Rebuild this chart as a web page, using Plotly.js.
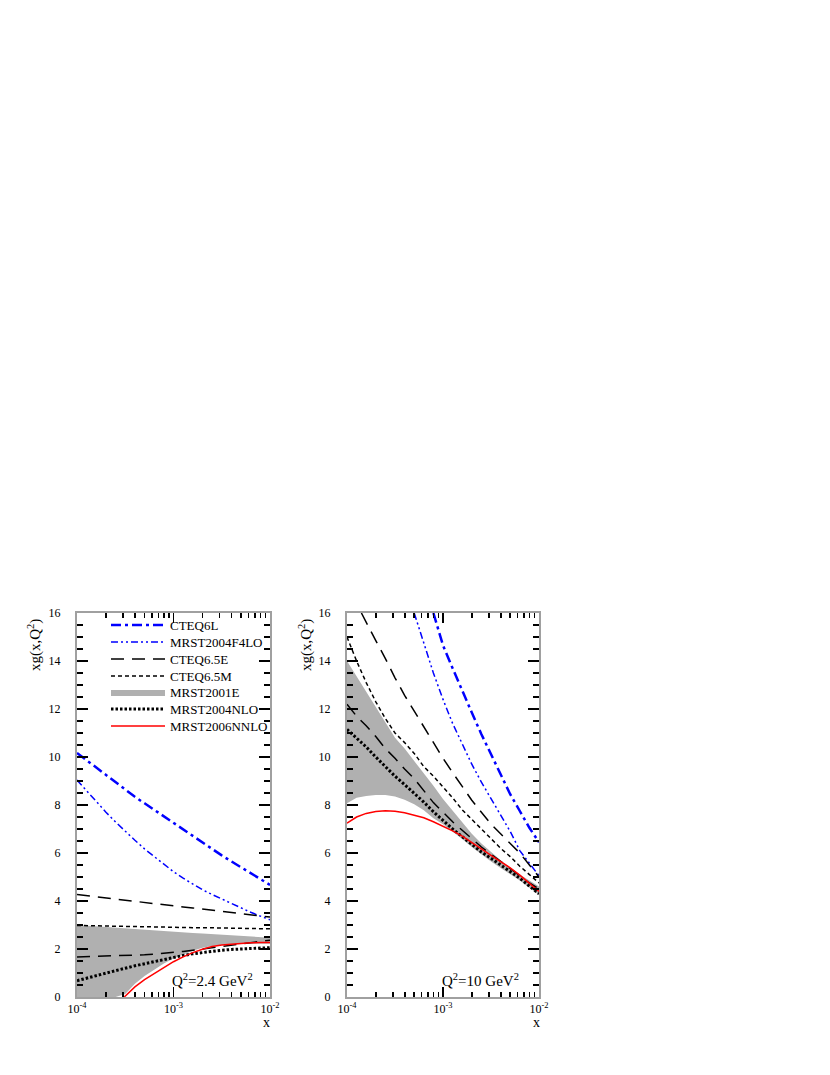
<!DOCTYPE html>
<html>
<head>
<meta charset="utf-8">
<script src="https://cdn.plot.ly/plotly-3.0.1.min.js"></script>
<style>
  html, body { margin: 0; padding: 0; background: #fff; }
  #chart { width: 830px; height: 1075px; }
</style>
</head>
<body>
<div id="chart"></div>
<script>
// x grid: 10^-4 ... 10^-2 in steps of 0.1 in log10(x)
const xGrid = [1e-4, 1.259e-4, 1.585e-4, 1.995e-4, 2.512e-4, 3.162e-4, 3.981e-4, 5.012e-4, 6.31e-4, 7.943e-4,
  1e-3, 1.259e-3, 1.585e-3, 1.995e-3, 2.512e-3, 3.162e-3, 3.981e-3, 5.012e-3, 6.31e-3, 7.943e-3, 1e-2];

// ---- Q2 = 2.4 GeV2 (left panel)
const lCteq6l   = [10.17, 9.86, 9.55, 9.24, 8.93, 8.62, 8.34, 8.07, 7.8, 7.52, 7.25, 6.97, 6.69, 6.42, 6.16, 5.9, 5.65, 5.4, 5.15, 4.91, 4.67];
const lMrstF4lo = [9.04, 8.58, 8.13, 7.7, 7.29, 6.9, 6.53, 6.17, 5.84, 5.52, 5.22, 4.95, 4.7, 4.47, 4.27, 4.08, 3.88, 3.7, 3.53, 3.37, 3.22];
const lCteq65eUp = [4.27, 4.22, 4.18, 4.13, 4.08, 4.04, 3.99, 3.94, 3.89, 3.85, 3.8, 3.75, 3.71, 3.66, 3.61, 3.57, 3.52, 3.47, 3.43, 3.38, 3.33];
const lCteq65eLo = [1.67, 1.68, 1.68, 1.69, 1.7, 1.72, 1.74, 1.76, 1.79, 1.82, 1.86, 1.9, 1.95, 2.0, 2.05, 2.1, 2.16, 2.21, 2.26, 2.32, 2.37];
const lCteq65m  = [2.98, 2.97, 2.96, 2.96, 2.95, 2.94, 2.93, 2.93, 2.92, 2.91, 2.9, 2.9, 2.89, 2.89, 2.88, 2.87, 2.87, 2.86, 2.85, 2.85, 2.84];
const lBandUp   = [3.0, 2.97, 2.94, 2.92, 2.89, 2.86, 2.83, 2.8, 2.78, 2.75, 2.72, 2.7, 2.67, 2.65, 2.62, 2.6, 2.57, 2.55, 2.52, 2.5, 2.47];
const lBandLo   = [0, 0, 0, 0, 0, 0.12, 0.55, 0.88, 1.15, 1.4, 1.6, 1.78, 1.93, 2.05, 2.13, 2.17, 2.2, 2.21, 2.22, 2.22, 2.22];
const lMrstNlo  = [0.68, 0.79, 0.9, 1.0, 1.1, 1.2, 1.3, 1.39, 1.49, 1.58, 1.66, 1.73, 1.8, 1.86, 1.91, 1.95, 1.98, 2.01, 2.03, 2.04, 2.05];
const lNnloX    = [3.09e-4, 3.981e-4, 5.012e-4, 6.31e-4, 7.943e-4, 1e-3, 1.259e-3, 1.585e-3, 1.995e-3, 2.512e-3, 3.162e-3, 3.981e-3, 5.012e-3, 6.31e-3, 7.943e-3, 1e-2];
const lMrstNnlo = [0, 0.42, 0.72, 0.98, 1.24, 1.47, 1.67, 1.85, 1.99, 2.1, 2.17, 2.21, 2.24, 2.26, 2.27, 2.27];

// ---- Q2 = 10 GeV2 (right panel)
const rCteq6l   = [null, null, null, null, null, null, null, null, null, 16.0, 14.65, 13.7, 12.75, 11.85, 10.95, 10.1, 9.25, 8.45, 7.75, 7.05, 6.45];
const rMrstF4lo = [null, null, null, null, null, null, null, 16.0, 14.7, 13.5, 12.4, 11.4, 10.55, 9.7, 8.95, 8.25, 7.55, 6.9, 6.1, 5.55, 5.05];
const rUpX      = [1.413e-4, 1.585e-4, 1.995e-4, 2.512e-4, 3.162e-4, 3.981e-4, 5.012e-4, 6.31e-4, 7.943e-4, 1e-3, 1.259e-3, 1.585e-3, 1.995e-3, 2.512e-3, 3.162e-3, 3.981e-3, 5.012e-3, 6.31e-3, 7.943e-3, 1e-2];
const rCteq65eUp = [16.0, 15.6, 14.85, 14.1, 13.3, 12.57, 11.9, 11.25, 10.6, 9.95, 9.35, 8.75, 8.2, 7.7, 7.2, 6.8, 6.4, 6.0, 5.5, 5.0];
const rCteq65eLo = [12.2, 11.7, 11.3, 10.85, 10.35, 9.95, 9.5, 9.1, 8.6, 8.1, 7.7, 7.3, 6.95, 6.6, 6.25, 5.95, 5.65, 5.35, 5.05, 4.75, 4.5];
const rCteq65m  = [15.0, 14.0, 13.1, 12.3, 11.6, 11.0, 10.6, 10.15, 9.6, 9.2, 8.75, 8.3, 7.8, 7.4, 7.0, 6.6, 6.2, 5.85, 5.45, 5.1, 4.75];
const rBandUp   = [14.0, 13.35, 12.7, 12.05, 11.4, 10.8, 10.35, 9.85, 9.35, 8.8, 8.25, 7.75, 7.25, 6.8, 6.4, 6.05, 5.7, 5.4, 5.1, 4.85, 4.6];
const rBandLo   = [8.07, 8.3, 8.38, 8.42, 8.42, 8.35, 8.22, 8.03, 7.78, 7.45, 7.2, 6.9, 6.58, 6.25, 5.93, 5.65, 5.38, 5.12, 4.85, 4.55, 4.25];
const rMrstNlo  = [11.15, 10.78, 10.42, 10.0, 9.6, 9.2, 8.85, 8.5, 8.12, 7.72, 7.35, 7.0, 6.68, 6.35, 6.04, 5.78, 5.5, 5.22, 4.95, 4.62, 4.3];
const rMrstNnlo = [7.24, 7.5, 7.65, 7.73, 7.76, 7.74, 7.68, 7.58, 7.47, 7.3, 7.12, 6.92, 6.7, 6.45, 6.17, 5.9, 5.65, 5.38, 5.08, 4.75, 4.4];

const xTickVals = [1e-4, 1e-3, 1e-2];
const xTickText = ['10<sup>-4</sup>', '10<sup>-3</sup>', '10<sup>-2</sup>'];

// legend rows (pixel centre of each row, top to bottom)
const legendRows = [625, 642, 659, 676, 692, 709, 726];

const BLUE = 'rgb(0,0,255)';
const RED = 'rgb(255,0,0)';
const GREY = 'rgb(176,176,176)';

const styles = {
  cteq6l:  { color: BLUE, width: 2.5, dash: '10px,4px,3px,4px' },
  f4lo:    { color: BLUE, width: 1.5, dash: '7px,3px,2px,3px,2px,3px' },
  c65e:    { color: 'black', width: 1.5, dash: '13px,8px' },
  c65m:    { color: 'black', width: 1.5, dash: '4px,3px' },
  nlo:     { color: 'black', width: 3, dash: '2.5px,2px' },
  nnlo:    { color: RED, width: 1.5 }
};

function panel(xa, ya, first, d) {
  const sl = first;
  return [
    { x: xGrid, y: d.bandLo, xaxis: xa, yaxis: ya, mode: 'lines', line: { width: 0 }, showlegend: false, hoverinfo: 'skip' },
    { x: xGrid, y: d.bandUp, xaxis: xa, yaxis: ya, mode: 'lines', line: { width: 0, color: GREY }, fill: 'tonexty', fillcolor: GREY,
      name: 'MRST2001E', showlegend: sl, legend: 'legend5' },
    { x: xGrid, y: d.cteq6l, xaxis: xa, yaxis: ya, mode: 'lines', line: styles.cteq6l, name: 'CTEQ6L', showlegend: sl, legend: 'legend' },
    { x: xGrid, y: d.f4lo, xaxis: xa, yaxis: ya, mode: 'lines', line: styles.f4lo, name: 'MRST2004F4LO', showlegend: sl, legend: 'legend2' },
    { x: d.upX, y: d.c65eUp, xaxis: xa, yaxis: ya, mode: 'lines', line: styles.c65e, name: 'CTEQ6.5E', showlegend: sl, legend: 'legend3' },
    { x: xGrid, y: d.c65eLo, xaxis: xa, yaxis: ya, mode: 'lines', line: styles.c65e, name: 'CTEQ6.5E', showlegend: false },
    { x: xGrid, y: d.c65m, xaxis: xa, yaxis: ya, mode: 'lines', line: styles.c65m, name: 'CTEQ6.5M', showlegend: sl, legend: 'legend4' },
    { x: xGrid, y: d.nlo, xaxis: xa, yaxis: ya, mode: 'lines', line: styles.nlo, name: 'MRST2004NLO', showlegend: sl, legend: 'legend6' },
    { x: d.nnloX, y: d.nnlo, xaxis: xa, yaxis: ya, mode: 'lines', line: styles.nnlo, name: 'MRST2006NNLO', showlegend: sl, legend: 'legend7' }
  ];
}

const data = [].concat(
  panel('x', 'y', true, {
    bandLo: lBandLo, bandUp: lBandUp, cteq6l: lCteq6l, f4lo: lMrstF4lo, upX: xGrid, c65eUp: lCteq65eUp,
    c65eLo: lCteq65eLo, c65m: lCteq65m, nlo: lMrstNlo, nnloX: lNnloX, nnlo: lMrstNnlo
  }),
  panel('x2', 'y2', false, {
    bandLo: rBandLo, bandUp: rBandUp, cteq6l: rCteq6l, f4lo: rMrstF4lo, upX: rUpX, c65eUp: rCteq65eUp,
    c65eLo: rCteq65eLo, c65m: rCteq65m, nlo: rMrstNlo, nnloX: xGrid, nnlo: rMrstNnlo
  })
);

const font = { family: 'Liberation Serif, Times New Roman, serif', color: 'black' };

function xAxis(domain, anchor) {
  return {
    domain: domain, anchor: anchor, type: 'log', range: [-4, -2],
    tickmode: 'array', tickvals: xTickVals, ticktext: xTickText,
    ticks: 'inside', ticklen: 10, tickwidth: 1.5, tickcolor: 'black',
    minor: { ticks: 'inside', ticklen: 5, tickwidth: 1.5, tickcolor: 'black', dtick: 'D1', showgrid: false },
    showline: true, linecolor: 'rgb(160,160,160)', linewidth: 2, mirror: 'ticks',
    showgrid: false, zeroline: false, tickfont: Object.assign({ size: 12 }, font)
  };
}
function yAxis(domain, anchor) {
  return {
    domain: domain, anchor: anchor, range: [0, 16], dtick: 2,
    ticks: 'inside', ticklen: 11, tickwidth: 1.5, tickcolor: 'black',
    minor: { ticks: 'inside', ticklen: 6, tickwidth: 1.5, tickcolor: 'black', dtick: 0.5, showgrid: false },
    showline: true, linecolor: 'rgb(160,160,160)', linewidth: 2, mirror: 'ticks',
    showgrid: false, zeroline: false, ticklabelstandoff: 12, tickfont: Object.assign({ size: 12 }, font)
  };
}

const yDom = [78 / 1075, 462 / 1075];

function note(px, py, text, size, angle) {
  return {
    xref: 'paper', yref: 'paper', x: px / 830, y: 1 - py / 1075, xanchor: 'center', yanchor: 'middle',
    text: text, textangle: angle || 0, showarrow: false, font: Object.assign({ size: size }, font)
  };
}

const layout = {
  width: 830, height: 1075,
  margin: { l: 0, r: 0, t: 0, b: 0 },
  paper_bgcolor: 'white', plot_bgcolor: 'white',
  font: font,
  xaxis: xAxis([77 / 830, 270 / 830], 'y'),
  yaxis: yAxis(yDom, 'x'),
  xaxis2: xAxis([347 / 830, 539 / 830], 'y2'),
  yaxis2: yAxis(yDom, 'x2'),
  showlegend: true,
  annotations: [
    note(34, 645, 'xg(x,Q<sup>2</sup>)', 15, -90),
    note(305, 645, 'xg(x,Q<sup>2</sup>)', 15, -90),
    note(266, 1022, 'x', 14),
    note(536, 1022, 'x', 14),
    note(213, 980, 'Q<sup>2</sup>=2.4 GeV<sup>2</sup>', 15),
    note(480, 980, 'Q<sup>2</sup>=10 GeV<sup>2</sup>', 15)
  ]
};

// one legend box per row so the row spacing follows the reference
['legend', 'legend2', 'legend3', 'legend4', 'legend5', 'legend6', 'legend7'].forEach((key, i) => {
  layout[key] = {
    x: 106 / 830, y: 1 - legendRows[i] / 1075, xanchor: 'left', yanchor: 'middle',
    bgcolor: 'rgba(0,0,0,0)', font: Object.assign({ size: 13 }, font), itemwidth: 54
  };
});

Plotly.newPlot('chart', data, layout, { displayModeBar: false, staticPlot: true });
</script>
</body>
</html>
